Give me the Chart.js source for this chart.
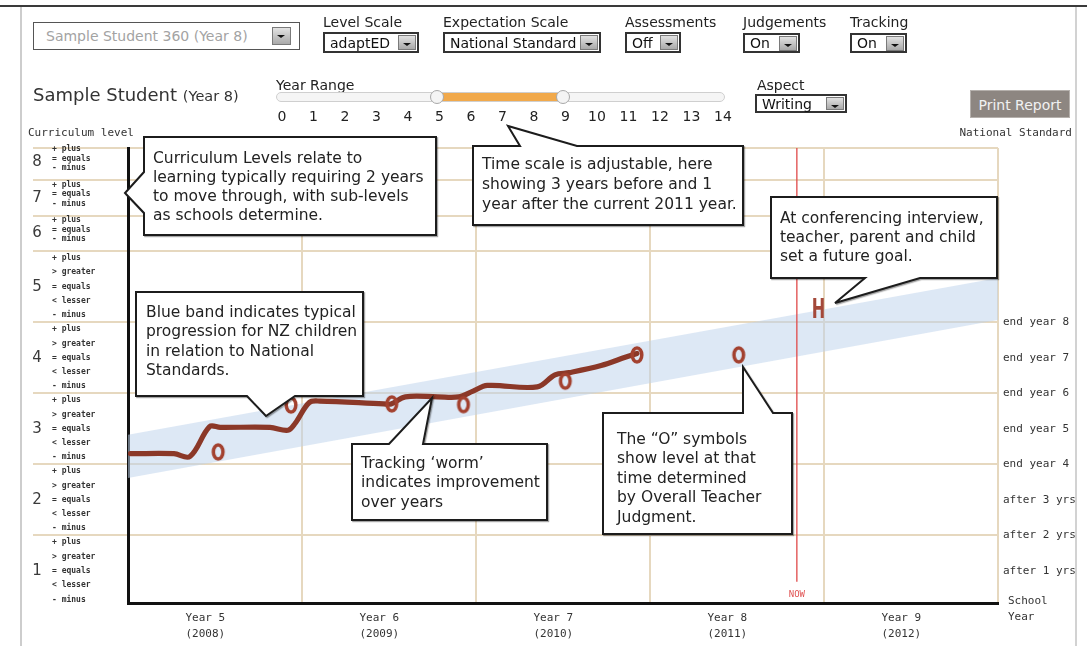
<!DOCTYPE html>
<html><head><meta charset="utf-8">
<script src="https://cdn.jsdelivr.net/npm/chart.js@4"></script>
<style>
html,body{margin:0;padding:0;background:#fff;}
body{width:1087px;height:646px;position:relative;overflow:hidden;font-family:'DejaVu Sans',Verdana,sans-serif;color:#222;}
canvas#c{position:absolute;left:0;top:0;}
.abs{position:absolute;white-space:nowrap;}
.lbl{font-size:14px;line-height:16px;color:#222;}
.sel{position:absolute;background:#fff;border:2px solid #333;box-sizing:border-box;font-size:14px;color:#111;}
.sel span.t{position:absolute;left:5px;top:50%;transform:translateY(-52%);white-space:nowrap;}
.btn{position:absolute;right:1px;top:1px;width:18px;height:15px;background:linear-gradient(#e2e2e2,#a9a9a9);border:1px solid #7a7a7a;box-sizing:border-box;}
.btn:after{content:'';position:absolute;left:4px;top:7px;border-left:4px solid transparent;border-right:4px solid transparent;border-top:3px solid #111;}
.mono{font-family:'DejaVu Sans Mono',monospace;font-size:11px;color:#333;line-height:14px;}
#ov{position:absolute;left:0;top:0;}
</style></head>
<body>
<canvas id="c" width="1087" height="646"></canvas>

<!-- frame -->
<div class="abs" style="left:0;top:5px;width:1087px;height:2px;background:#3a3a3a"></div>
<div class="abs" style="left:20px;top:7px;width:2px;height:639px;background:#cdcdcd"></div>
<div class="abs" style="left:1075px;top:7px;width:2px;height:639px;background:#d2d2d2"></div>

<!-- top controls -->
<div class="sel" style="left:33px;top:22px;width:267px;height:28px;border:1px solid #555;color:#a3a3a3"><span class="t" style="left:12px">Sample Student 360 (Year 8)</span><span class="btn" style="right:8px;top:4px;height:18px;width:19px"></span></div>

<div class="abs lbl" style="left:323px;top:14px">Level Scale</div>
<div class="sel" style="left:323px;top:32px;width:96px;height:21px"><span class="t">adaptED</span><span class="btn"></span></div>

<div class="abs lbl" style="left:443px;top:14px">Expectation Scale</div>
<div class="sel" style="left:443px;top:32px;width:158px;height:21px"><span class="t">National Standard</span><span class="btn"></span></div>

<div class="abs lbl" style="left:625px;top:14px">Assessments</div>
<div class="sel" style="left:625px;top:32px;width:56px;height:21px"><span class="t">Off</span><span class="btn"></span></div>

<div class="abs lbl" style="left:743px;top:14px">Judgements</div>
<div class="sel" style="left:743px;top:33px;width:57px;height:20px"><span class="t">On</span><span class="btn"></span></div>

<div class="abs lbl" style="left:850px;top:14px">Tracking</div>
<div class="sel" style="left:850px;top:33px;width:57px;height:20px"><span class="t">On</span><span class="btn"></span></div>

<div class="abs" style="left:33px;top:84px;font-size:18px;color:#333;line-height:22px">Sample Student <span style="font-size:14.5px">(Year 8)</span></div>

<div class="abs lbl" style="left:276px;top:77px">Year Range</div>
<div class="abs" style="left:276px;top:92px;width:449px;height:10px;border:1px solid #cfcfcf;border-radius:6px;background:#f5f5f5;box-sizing:border-box"></div>
<div class="abs" style="left:437px;top:93px;width:126px;height:8px;background:#f1a94b"></div>
<div class="abs" style="left:430px;top:90px;width:14px;height:14px;border:1px solid #a8a8a8;border-radius:50%;background:#f4f4f4;box-sizing:border-box"></div>
<div class="abs" style="left:556px;top:90px;width:14px;height:14px;border:1px solid #a8a8a8;border-radius:50%;background:#f4f4f4;box-sizing:border-box"></div>
<div id="rangeNums"></div>

<div class="abs lbl" style="left:757px;top:77px">Aspect</div>
<div class="sel" style="left:755px;top:94px;width:92px;height:19px"><span class="t">Writing</span><span class="btn" style="height:13px"></span></div>

<div class="abs" style="left:970px;top:90px;width:100px;height:28px;background:#8d8681;color:#f1f1f1;font-size:14px;line-height:28px;text-align:center;border:1px solid #b5b0ac;box-sizing:border-box">Print Report</div>

<div class="abs mono" style="left:28px;top:126px">Curriculum level</div>
<div class="abs mono" style="right:15px;top:126px">National Standard</div>
<div class="abs mono" style="left:1008px;top:594px">School</div>
<div class="abs mono" style="left:1008px;top:610px">Year</div>

<svg id="ov" width="1087" height="646">
 <defs><filter id="sh" x="-5%" y="-5%" width="110%" height="115%"><feDropShadow dx="1.2" dy="1.2" stdDeviation="0.6" flood-color="#000" flood-opacity="0.35"/></filter></defs>
 <g fill="#fff" stroke="#1c1c1c" stroke-width="2" filter="url(#sh)">
  <path d="M144 137H436V235H144V213L125 193L144 172Z"/>
  <path d="M473 146H520L508 126L577 146H743V225H473Z"/>
  <path d="M771 197H997V278H920L835 303L865 278H771Z"/>
  <path d="M136 292H363V396H295L266 416L247 396H136Z"/>
  <path d="M352 444H389L432 398L423 444H547V520H352Z"/>
  <path d="M603 413H743V367L773 413H792V534H603Z"/>
 </g>
 <g font-family="DejaVu Sans, Verdana, sans-serif" font-size="15.5" fill="#222">
  <text x="153" y="162.5">Curriculum Levels relate to</text>
  <text x="153" y="181.5">learning typically requiring 2 years</text>
  <text x="153" y="200.5">to move through, with sub-levels</text>
  <text x="153" y="220">as schools determine.</text>

  <text x="482" y="168.5">Time scale is adjustable, here</text>
  <text x="482" y="188.5">showing 3 years before and 1</text>
  <text x="482" y="208.5">year after the current 2011 year.</text>

  <text x="780" y="222.5">At conferencing interview,</text>
  <text x="780" y="241.5">teacher, parent and child</text>
  <text x="780" y="260.5">set a future goal.</text>

  <text x="146" y="316.5">Blue band indicates typical</text>
  <text x="146" y="336">progression for NZ children</text>
  <text x="146" y="355.5">in relation to National</text>
  <text x="146" y="375">Standards.</text>

  <text x="361" y="467.5">Tracking ‘worm’</text>
  <text x="361" y="487">indicates improvement</text>
  <text x="361" y="506.5">over years</text>

  <text x="617" y="443.5">The “O” symbols</text>
  <text x="617" y="463">show level at that</text>
  <text x="617" y="482.5">time determined</text>
  <text x="617" y="502">by Overall Teacher</text>
  <text x="617" y="521.5">Judgment.</text>
 </g>
</svg>

<script>
// ---------- data ----------
const rangeValues = [0,1,2,3,4,5,6,7,8,9,10,11,12,13,14];

const yearTicks  = [2008, 2009, 2010, 2011, 2012];
const yearLabels = [['Year 5','(2008)'],['Year 6','(2009)'],['Year 7','(2010)'],['Year 8','(2011)'],['Year 9','(2012)']];
const yearBounds = [2007.556, 2008.556, 2009.556, 2010.556, 2011.556, 2012.556];

const levelNames  = ['1','2','3','4','5','6','7','8'];
const levelBounds = [2, 4, 6, 8, 10, 11, 12, 12.9];
const fiveSub  = ['- minus','< lesser','= equals','> greater','+ plus'];
const threeSub = ['- minus','= equals','+ plus'];

const schoolYearValues = [1, 2, 3, 4, 5, 6, 7, 8];
const schoolYearLabels = ['after 1 yrs','after 2 yrs','after 3 yrs','end year 4','end year 5','end year 6','end year 7','end year 8'];

const bandX      = [2007.556, 2012.556];
const bandTop    = [4.83, 9.24];
const bandBottom = [3.62, 8.06];

const wormX = [2007.57, 2007.82, 2007.912, 2008.025, 2008.086, 2008.372, 2008.475, 2008.516, 2008.598, 2008.659, 2009.026, 2009.068, 2009.15, 2009.335, 2009.456, 2009.539, 2009.621, 2009.908, 2010.01, 2010.092, 2010.275, 2010.418, 2010.481];
const wormY = [4.30, 4.30, 4.22, 5.06, 5.04, 5.04, 4.96, 5.15, 5.74, 5.78, 5.70, 5.70, 5.90, 5.90, 5.90, 6.06, 6.22, 6.18, 6.52, 6.58, 6.78, 7.02, 7.12];

const judgementX = [2008.074, 2008.493, 2009.072, 2009.484, 2010.069, 2010.481, 2011.066];
const judgementY = [4.35, 5.67, 5.70, 5.68, 6.34, 7.08, 7.08];

const goalX = [2011.524];
const goalY = [8.34];

const nowX = [2011.40, 2011.40];
const nowY = [12.9, 0.7];

const X_MIN = 2007.556, X_MAX = 2012.556, Y_MIN = 0.1, Y_MAX = 12.9;

// ---------- slider numbers ----------
(function(){
  const host = document.getElementById('rangeNums');
  rangeValues.forEach((v,i)=>{
    const d = document.createElement('div');
    d.className='abs'; d.textContent=String(v);
    d.style.cssText='font-size:14px;line-height:16px;color:#222;top:108px;width:30px;text-align:center;left:'+(282+31.5*i-15)+'px';
    host.appendChild(d);
  });
})();

// ---------- markers ----------
function ellipseMarker(){
  const c=document.createElement('canvas'); c.width=18; c.height=24;
  const g=c.getContext('2d'); g.strokeStyle='#a3412f'; g.lineWidth=3.5;
  g.beginPath(); g.ellipse(9,12,4.8,7,0,0,Math.PI*2); g.stroke();
  return c;
}
const pts = (xs,ys)=>xs.map((v,i)=>({x:v,y:ys[i]}));

const labelsPlugin = {
  id:'labelsPlugin',
  afterDraw(chart){
    const ctx=chart.ctx, ys=chart.scales.y, xs=chart.scales.x;
    ctx.save();
    ctx.textBaseline='middle';
    levelNames.forEach((name,i)=>{
      const lvl=i+1;
      const base = lvl<=5 ? (lvl-1)*2 : 10+(lvl-6);
      const wide = lvl<=5;
      ctx.fillStyle='#3a3a3a'; ctx.font='15px "DejaVu Sans"'; ctx.textAlign='center';
      ctx.fillText(name, 37, ys.getPixelForValue(base + (wide?1.0:0.5)));
      ctx.font='bold 8px "DejaVu Sans Mono"'; ctx.textAlign='left'; ctx.fillStyle='#333';
      const subs = wide?fiveSub:threeSub;
      const offs = wide?[0.2,0.6,1.0,1.4,1.82]:[0.33,0.6,0.87];
      subs.forEach((s,j)=>ctx.fillText(s, 52, ys.getPixelForValue(base+offs[j])));
    });
    // NOW label
    ctx.fillStyle='#e05252'; ctx.font='9px "DejaVu Sans Mono"'; ctx.textAlign='center';
    ctx.fillText('NOW', xs.getPixelForValue(nowX[0]), ys.getPixelForValue(nowY[1])+13);
    // goal H
    const gm = chart.getDatasetMeta(5);
    gm.data.forEach(p=>{
      ctx.save(); ctx.translate(p.x,p.y); ctx.scale(0.62,1);
      ctx.fillStyle='#a4493a'; ctx.font='bold 26px "DejaVu Sans"'; ctx.textAlign='center';
      ctx.fillText('H',0,1); ctx.restore();
    });
    ctx.restore();
  }
};

const isBound = v => yearBounds.some(b=>Math.abs(b-v)<1e-6);

new Chart(document.getElementById('c'), {
  type:'line',
  data:{ datasets:[
    {label:'band', data:pts(bandX,bandTop), borderWidth:0, pointRadius:0, fill:'+1', backgroundColor:'rgba(190,210,236,0.52)', order:10},
    {label:'band2', data:pts(bandX,bandBottom), borderWidth:0, pointRadius:0, fill:false, order:11},
    {label:'now', data:pts(nowX,nowY), borderColor:'#e04a4a', borderWidth:1.3, pointRadius:0, fill:false, order:5},
    {label:'worm', data:pts(wormX,wormY), borderColor:'#8b3828', borderWidth:5.2, tension:0.35, pointRadius:0, fill:false, borderCapStyle:'round', borderJoinStyle:'round', order:2},
    {label:'otj', data:pts(judgementX,judgementY), showLine:false, pointStyle:ellipseMarker(), pointRadius:8, order:1},
    {label:'goal', data:pts(goalX,goalY), showLine:false, pointRadius:0, order:0}
  ]},
  options:{
    responsive:false, animation:false, devicePixelRatio:1,
    layout:{padding:{left:0,right:0,top:148,bottom:0}},
    plugins:{legend:{display:false}, tooltip:{enabled:false}},
    scales:{
      x:{type:'linear', min:X_MIN, max:X_MAX,
        afterBuildTicks:s=>{ s.ticks=[...yearBounds,...yearTicks].sort((a,b)=>a-b).map(v=>({value:v})); },
        ticks:{autoSkip:false, maxRotation:0, minRotation:0, padding:7, color:'#333',
          font:{family:'DejaVu Sans Mono', size:11, lineHeight:1.45},
          callback:v=>{ const i=yearTicks.indexOf(v); return i>=0?yearLabels[i]:''; }},
        grid:{color:c=>(c.tick && isBound(c.tick.value))?'#e6d8bf':'rgba(0,0,0,0)', lineWidth:2, drawTicks:false},
        border:{display:true, color:'#111', width:3},
        afterFit:s=>{ s.height=43; }
      },
      y:{type:'linear', min:Y_MIN, max:Y_MAX,
        afterBuildTicks:s=>{ s.ticks=levelBounds.map(v=>({value:v})); },
        ticks:{display:false},
        grid:{color:'#e6d8bf', lineWidth:2, drawTicks:true, tickLength:95},
        border:{display:true, color:'#111', width:3},
        afterFit:s=>{ s.width=128; }
      },
      y2:{type:'linear', position:'right', min:Y_MIN, max:Y_MAX,
        afterBuildTicks:s=>{ s.ticks=schoolYearValues.map(v=>({value:v})); },
        ticks:{padding:5, color:'#333', font:{family:'DejaVu Sans Mono', size:11},
          callback:v=>{ const i=schoolYearValues.indexOf(v); return i>=0?schoolYearLabels[i]:''; }},
        grid:{display:false, drawTicks:false}, border:{display:false},
        afterFit:s=>{ s.width=89; }
      }
    }
  },
  plugins:[labelsPlugin]
});
</script>
</body></html>
